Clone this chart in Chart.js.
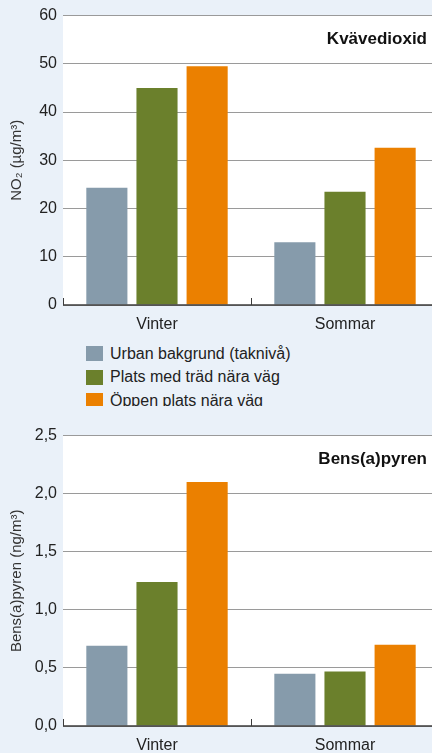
<!DOCTYPE html>
<html>
<head>
<meta charset="utf-8">
<script src="https://cdn.jsdelivr.net/npm/chart.js@4.4.1/dist/chart.umd.min.js"></script>
<style>
  body { margin: 0; width: 432px; height: 753px; overflow: hidden; background: #eaf1f9; position: relative; font-family: "Liberation Sans", Arial, sans-serif; }
  canvas { position: absolute; left: 0; }
  #no2Chart { top: 0; }
  #bapChart { top: 420px; }
  #legend { position: absolute; left: 86px; top: 342px; height: 64px; overflow: hidden; }
  .item { height: 23.5px; display: flex; align-items: center; font-size: 16px; color: #222; white-space: nowrap; }
  .swatch { width: 17px; height: 15px; margin-right: 7px; display: inline-block; flex: none; }
</style>
</head>
<body>
<canvas id="no2Chart" width="439" height="340"></canvas>
<div id="legend"></div>
<canvas id="bapChart" width="439" height="333"></canvas>
<script>
const seasons = ['Vinter', 'Sommar'];
const siteNames = ['Urban bakgrund (taknivå)', 'Plats med träd nära väg', 'Öppen plats nära väg'];

// NO2, µg/m3
const no2Urban = [24.3, 13.0];
const no2Trees = [45.0, 23.5];
const no2Open = [49.5, 32.6];
const no2Ticks = ['0', '10', '20', '30', '40', '50', '60'];

// Bens(a)pyren, ng/m3
const bapUrban = [0.69, 0.45];
const bapTrees = [1.24, 0.47];
const bapOpen = [2.10, 0.70];
const bapTicks = ['0,0', '0,5', '1,0', '1,5', '2,0', '2,5'];

const siteColors = ['#869bab', '#6b802c', '#eb8000'];
const fontFamily = '"Liberation Sans", Arial, sans-serif';

// white plot panel, zero line, small category ticks and the panel title
const panelPlugin = {
    id: 'panel',
    beforeDraw(chart) {
        const { ctx, chartArea } = chart;
        ctx.save();
        ctx.fillStyle = '#ffffff';
        ctx.fillRect(chartArea.left, chartArea.top, chart.width - chartArea.left, chartArea.bottom - chartArea.top);
        ctx.restore();
    },
    afterDatasetsDraw(chart, args, opts) {
        const { ctx, chartArea } = chart;
        const x = chart.scales.x;
        ctx.save();
        ctx.strokeStyle = '#3c3c3c';
        ctx.lineWidth = 1.5;
        ctx.beginPath();
        ctx.moveTo(chartArea.left, chartArea.bottom);
        ctx.lineTo(chart.width, chartArea.bottom);
        ctx.stroke();
        ctx.lineWidth = 1;
        for (let i = 0; i < chart.data.labels.length; i++) {
            const px = Math.round(x.getPixelForValue(i - 0.5)) + 0.5;
            ctx.beginPath();
            ctx.moveTo(px, chartArea.bottom);
            ctx.lineTo(px, chartArea.bottom - 7);
            ctx.stroke();
        }
        ctx.font = 'bold 17px ' + fontFamily;
        ctx.fillStyle = '#111';
        ctx.textAlign = 'right';
        ctx.textBaseline = 'middle';
        ctx.fillText(opts.text, chart.width - 12, chartArea.top + 24);
        ctx.restore();
    }
};

function makeDatasets(values) {
    return values.map((v, i) => ({
        label: siteNames[i],
        data: v,
        backgroundColor: siteColors[i],
        borderWidth: 0,
        categoryPercentage: 0.8,
        barPercentage: 0.82
    }));
}

function makeChart(canvasId, datasets, yMax, yStep, tickLabels, yTitle, panelTitle, xHeight) {
    return new Chart(document.getElementById(canvasId), {
        type: 'bar',
        data: { labels: seasons, datasets: datasets },
        options: {
            responsive: false,
            animation: false,
            devicePixelRatio: 1,
            layout: { padding: { top: 14, left: 0, right: 0, bottom: 0 } },
            plugins: {
                legend: { display: false },
                tooltip: { enabled: false },
                panel: { text: panelTitle }
            },
            scales: {
                x: {
                    afterFit: (scale) => { scale.height = xHeight; },
                    grid: { display: false },
                    border: { display: false },
                    ticks: { color: '#222', font: { family: fontFamily, size: 16 }, padding: 2 }
                },
                y: {
                    min: 0,
                    max: yMax,
                    afterFit: (scale) => { scale.width = 63; },
                    grid: { color: '#9a9a9a', lineWidth: 1, drawTicks: false },
                    border: { display: false },
                    ticks: {
                        stepSize: yStep,
                        color: '#222',
                        padding: 6,
                        font: { family: fontFamily, size: 16 },
                        callback: (value, index) => tickLabels[index]
                    },
                    title: {
                        display: true,
                        text: yTitle,
                        color: '#333',
                        font: { family: fontFamily, size: 15 },
                        padding: { top: 8, bottom: 0 }
                    }
                }
            }
        },
        plugins: [panelPlugin]
    });
}

makeChart('no2Chart', makeDatasets([no2Urban, no2Trees, no2Open]), 60, 10, no2Ticks,
    'NO₂ (µg/m³)', 'Kvävedioxid', 35);
makeChart('bapChart', makeDatasets([bapUrban, bapTrees, bapOpen]), 2.5, 0.5, bapTicks,
    'Bens(a)pyren (ng/m³)', 'Bens(a)pyren', 27);

// legend built from the same names and colours
const legendDiv = document.getElementById('legend');
siteNames.forEach((name, i) => {
    const row = document.createElement('div');
    row.className = 'item';
    row.innerHTML = `<span class="swatch" style="background:${siteColors[i]}"></span>${name}`;
    legendDiv.appendChild(row);
});
</script>
</body>
</html>
